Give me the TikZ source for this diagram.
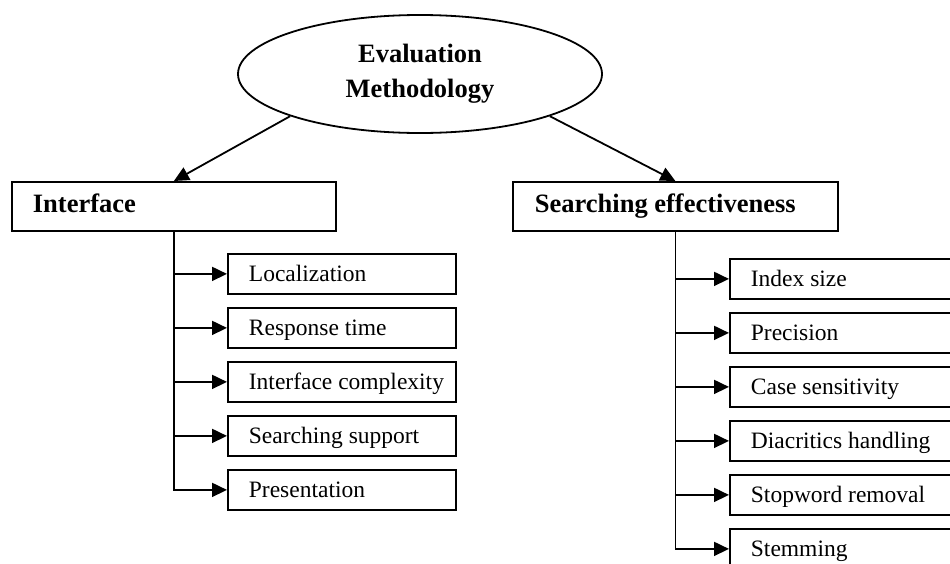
\documentclass[tikz,border=0pt]{standalone}
\usepackage{fontspec}
\setmainfont{Liberation Serif}
\usetikzlibrary{shapes.geometric,arrows.meta}
\begin{document}
\begin{tikzpicture}[x=1pt,y=-1pt,
  line width=1.8pt,
  tip/.style={-{Triangle[length=15pt,width=14pt]}},
  headbox/.style={draw, rectangle, anchor=north west, minimum width=#1,
    minimum height=49pt, inner sep=0pt},
  childbox/.style={draw, rectangle, anchor=north west, minimum width=#1,
    minimum height=40pt, inner sep=0pt},
  headtxt/.style={anchor=base west, inner sep=0pt,
    font=\fontsize{26.5}{32}\selectfont\bfseries},
  childtxt/.style={anchor=base west, inner sep=0pt,
    font=\fontsize{23.5}{28}\selectfont},
]
\clip (0,0) rectangle (950,563);
\fill[white] (0,0) rectangle (950,563);

% root
\node[draw, ellipse, minimum width=364pt, minimum height=118pt, inner sep=0pt,
  align=center, font=\fontsize{26.5}{35}\selectfont\bfseries] (ev) at (420,74)
  {Evaluation\\Methodology};

% first level
\node[headbox=324pt] (if) at (11,181) {};
\node[headtxt] (ift) at ([xshift=21pt,yshift=19pt]if.south west) {Interface};
\node[headbox=325pt] (se) at (512,181) {};
\node[headtxt] (set) at ([xshift=22pt,yshift=19pt]se.south west) {Searching effectiveness};

\draw[tip] (ev.198) -- (if.north);
\draw[tip] (ev.342) -- (se.north);

% interface criteria
\foreach \i/\t in {1/Localization, 2/Response time, 3/Interface complexity,
                   4/Searching support, 5/Presentation} {
  \node[childbox=228pt] (a\i) at (227,{253+54*(\i-1)}) {};
  \node[childtxt] (at\i) at ([xshift=21pt,yshift=13.5pt]a\i.south west) {\t};
}
\draw[tip] (if.south) |- (a5.west);
\foreach \i in {1,...,4} \draw[tip] (if.south |- a\i.west) -- (a\i.west);

% effectiveness criteria
\foreach \i/\t in {1/Index size, 2/Precision, 3/Case sensitivity,
                   4/Diacritics handling, 5/Stopword removal, 6/Stemming} {
  \node[childbox=260pt] (b\i) at (729,{258+54*(\i-1)}) {};
  \node[childtxt] (bt\i) at ([xshift=21pt,yshift=13.5pt]b\i.south west) {\t};
}
\draw[tip] (se.south) |- (b6.west);
\foreach \i in {1,...,5} \draw[tip] (se.south |- b\i.west) -- (b\i.west);
\end{tikzpicture}
\end{document}
